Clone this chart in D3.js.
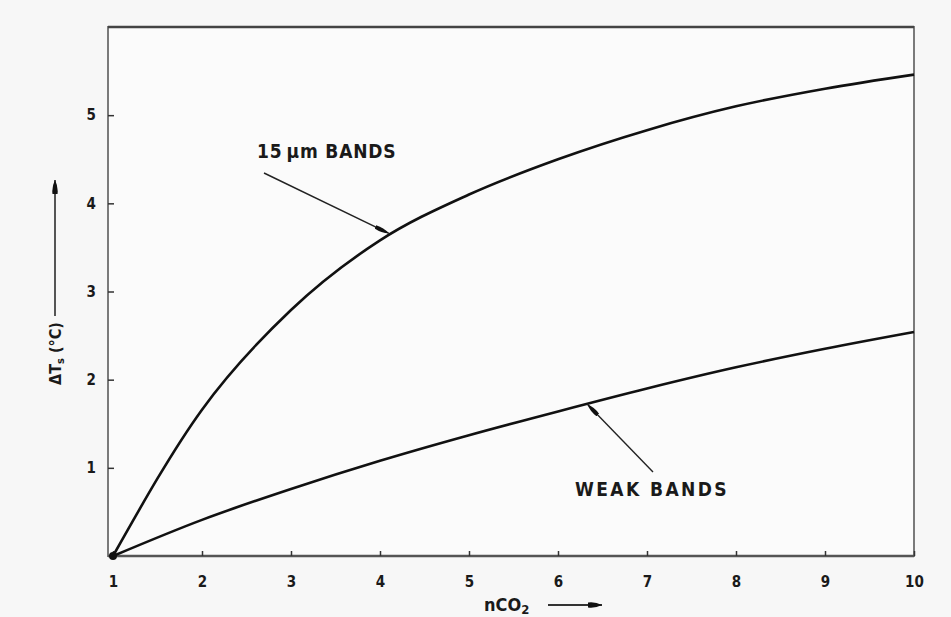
<!DOCTYPE html>
<html>
<head>
<meta charset="utf-8">
<script src="https://cdn.jsdelivr.net/npm/d3@7"></script>
<style>
  html, body { margin: 0; padding: 0; background: #f7f7f7; }
  svg { display: block; }
  text { font-family: "DejaVu Sans Condensed", "DejaVu Sans", sans-serif; fill: #1a1a1a; font-weight: bold; }
</style>
</head>
<body>
<svg id="chart" width="951" height="617"></svg>
<script>
// ---- data ----
const nCO2 = [1, 2, 3, 4, 5, 6, 7, 8, 9, 10];
const band15um = [0, 1.66, 2.79, 3.58, 4.10, 4.50, 4.83, 5.10, 5.30, 5.46];
const weakBands = [0, 0.41, 0.76, 1.08, 1.37, 1.64, 1.90, 2.14, 2.35, 2.54];
const xTicks = [1, 2, 3, 4, 5, 6, 7, 8, 9, 10];
const yTicks = [1, 2, 3, 4, 5];
const seriesLabels = ["15\u2009\u03bcm BANDS", "WEAK BANDS"];

const svg = d3.select("#chart");
const x = d3.scaleLinear().domain([1, 10]).range([113, 914]);
const y = d3.scaleLinear().domain([0, 6]).range([556, 27]);

const frameLeft = 108, frameRight = 914, frameTop = 27, frameBottom = 556;

// defs: arrowheads
const defs = svg.append("defs");
defs.append("marker").attr("id", "ah").attr("viewBox", "0 0 15 6")
  .attr("refX", 15).attr("refY", 3).attr("markerWidth", 15).attr("markerHeight", 6)
  .attr("markerUnits", "userSpaceOnUse").attr("orient", "auto")
  .append("path").attr("d", "M0,1.2 Q8,0 15,3 Q8,6 0,4.8 Z").attr("fill", "#111");
defs.append("marker").attr("id", "ah2").attr("viewBox", "0 0 14 7")
  .attr("refX", 14).attr("refY", 3.5).attr("markerWidth", 14).attr("markerHeight", 7)
  .attr("markerUnits", "userSpaceOnUse").attr("orient", "auto")
  .append("path").attr("d", "M0,1 Q7,0 14,3.5 Q7,7 0,6 Z").attr("fill", "#111");

// frame
svg.append("rect").attr("x", frameLeft).attr("y", frameTop)
  .attr("width", frameRight - frameLeft).attr("height", frameBottom - frameTop)
  .attr("fill", "#fbfbfb").attr("stroke", "#7a7a7a").attr("stroke-width", 2);
svg.append("line").attr("x1", frameLeft).attr("x2", frameRight).attr("y1", frameTop).attr("y2", frameTop)
  .attr("stroke", "#444").attr("stroke-width", 2.5);
svg.append("line").attr("x1", frameLeft).attr("x2", frameRight).attr("y1", frameBottom).attr("y2", frameBottom)
  .attr("stroke", "#555").attr("stroke-width", 2.5);

// x axis (ticks inward)
const xAxis = d3.axisBottom(x).tickValues(xTicks).tickSize(-5).tickPadding(20).tickFormat(d3.format("d"));
const gx = svg.append("g").attr("transform", `translate(0,${frameBottom})`).call(xAxis);
gx.select(".domain").remove();
gx.selectAll(".tick line").attr("stroke", "#333").attr("stroke-width", 1.5);
gx.selectAll(".tick text").attr("font-size", 15).attr("fill", "#1a1a1a");

// y axis (ticks inward)
const yAxis = d3.axisLeft(y).tickValues(yTicks).tickSize(-6).tickPadding(12).tickFormat(d3.format("d"));
const gy = svg.append("g").attr("transform", `translate(${frameLeft},0)`).call(yAxis);
gy.select(".domain").remove();
gy.selectAll(".tick line").attr("stroke", "#333").attr("stroke-width", 1.5);
gy.selectAll(".tick text").attr("font-size", 15).attr("fill", "#1a1a1a");

// curves
const line = d3.line().x((d, i) => x(nCO2[i])).y(d => y(d)).curve(d3.curveMonotoneX);
svg.append("path").datum(band15um).attr("d", line).attr("fill", "none")
  .attr("stroke", "#111").attr("stroke-width", 2.6);
svg.append("path").datum(weakBands).attr("d", line).attr("fill", "none")
  .attr("stroke", "#111").attr("stroke-width", 2.6);
svg.append("circle").attr("cx", x(1)).attr("cy", y(0)).attr("r", 4).attr("fill", "#111");

// annotations
svg.append("text").attr("x", 257).attr("y", 158).attr("font-size", 19)
  .attr("letter-spacing", 0.8).text(seriesLabels[0]);
svg.append("line").attr("x1", 264).attr("y1", 173).attr("x2", x(4.1)).attr("y2", y(3.66))
  .attr("stroke", "#222").attr("stroke-width", 1.4).attr("marker-end", "url(#ah)");

svg.append("text").attr("x", 575).attr("y", 496).attr("font-size", 19)
  .attr("letter-spacing", 2.4).text(seriesLabels[1]);
svg.append("line").attr("x1", 653).attr("y1", 472).attr("x2", x(6.33)).attr("y2", y(1.72))
  .attr("stroke", "#222").attr("stroke-width", 1.4).attr("marker-end", "url(#ah)");

// x label with arrow
const xl = svg.append("text").attr("x", 484).attr("y", 611).attr("font-size", 18);
xl.append("tspan").text("nCO");
xl.append("tspan").attr("font-size", 13).attr("dy", 3).text("2");
svg.append("line").attr("x1", 548).attr("y1", 605).attr("x2", 602).attr("y2", 605)
  .attr("stroke", "#333").attr("stroke-width", 2).attr("marker-end", "url(#ah2)");

// y label with arrow (rotated)
const yl = svg.append("text").attr("transform", "translate(61,385) rotate(-90)").attr("font-size", 16);
yl.append("tspan").text("\u0394T");
yl.append("tspan").attr("font-size", 11).attr("dy", 3).text("s");
yl.append("tspan").attr("dy", -3).text(" (\u00b0C)");
svg.append("line").attr("x1", 55).attr("y1", 316).attr("x2", 55).attr("y2", 180)
  .attr("stroke", "#555").attr("stroke-width", 2).attr("marker-end", "url(#ah2)");
</script>
</body>
</html>
